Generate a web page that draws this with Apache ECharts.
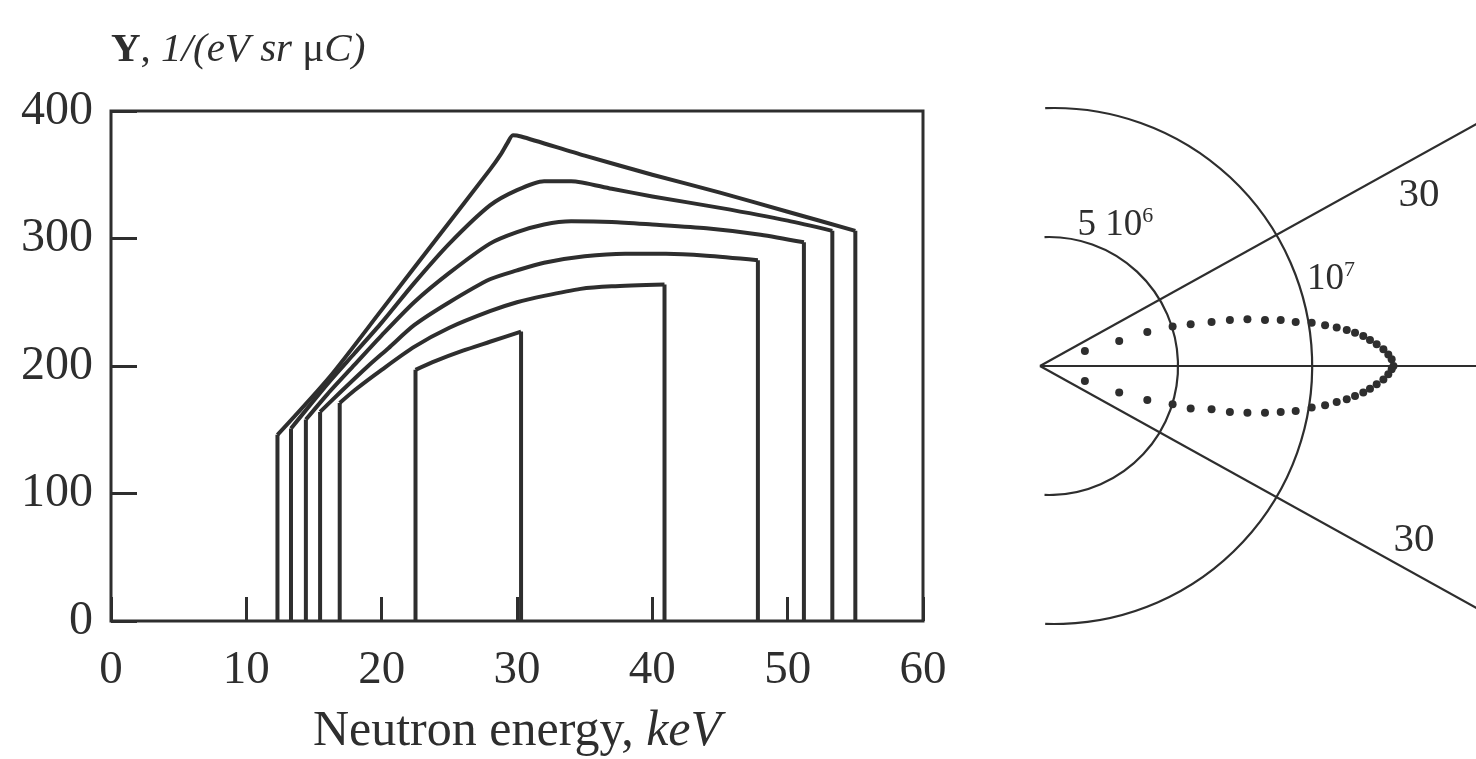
<!DOCTYPE html>
<html>
<head>
<meta charset="utf-8">
<title>Neutron yield</title>
<script src="https://cdn.jsdelivr.net/npm/echarts@6/dist/echarts.min.js"></script>
<style>
  html, body { margin: 0; padding: 0; background: #fff; }
  #chart { width: 1476px; height: 759px; }
</style>
</head>
<body>
<div id="chart"></div>
<script>
// ---- left panel: yield vs neutron energy (keV), Y in 1/(eV sr uC) ----
const curveA = [[12.3, 146], [16.2, 192], [20, 244], [24, 299], [28, 354], [28.8, 366], [29.3, 375], [29.7, 381], [30.3, 380], [35, 365], [40, 350], [45, 336], [50, 321], [55.0, 306]]
const curveB = [[13.3, 151], [16, 186], [18, 210], [20, 234], [22.4, 265], [25, 296], [28, 326], [30, 338], [32, 345], [34, 345], [37, 339], [40, 333], [45, 324], [50, 314], [53.3, 306]]
const curveC = [[14.4, 158], [16, 178], [18, 201], [20, 224], [22.4, 250], [25, 273], [28, 296], [30, 305], [32, 311], [34, 313.5], [37, 313], [40, 311], [44, 308], [48, 303], [51.2, 297]]
const curveD = [[15.45, 164], [17, 180], [19, 200], [20.5, 214], [22.4, 232], [25, 250], [28, 268], [30, 275], [32, 281], [35, 286], [38, 288], [41, 288], [44, 286.5], [47.8, 283]]
const curveE = [[16.9, 171], [18, 181], [20, 197], [22.4, 215], [25, 230], [28, 243], [30, 250], [32, 255], [34.7, 260.5], [37, 262.5], [40.9, 264]]
const curveF = [[22.5, 197], [24, 204], [26, 212], [28, 219], [30.3, 227]]
const yieldCurves = [curveA, curveB, curveC, curveD, curveE, curveF]

// ---- right panel: sketch, distances in units of 10^6 ----
const arcRadii = [5, 10]
const arcCentres = [0.35, 0.55]
const rayAngles = [29, 0, -29]
const upperDots = [[1.74, 0.58], [3.07, 0.97], [4.16, 1.32], [5.14, 1.53], [5.84, 1.62], [6.65, 1.71], [7.36, 1.78], [8.04, 1.81], [8.72, 1.78], [9.33, 1.78], [9.91, 1.71], [10.53, 1.68], [11.05, 1.58], [11.5, 1.49], [11.89, 1.4], [12.21, 1.29], [12.53, 1.16], [12.79, 1.01], [13.05, 0.84], [13.31, 0.65], [13.5, 0.45], [13.63, 0.26], [13.7, 0]]
const lowerDots = [[1.74, -0.58], [3.07, -1.03], [4.16, -1.32], [5.14, -1.48], [5.84, -1.65], [6.65, -1.68], [7.36, -1.78], [8.04, -1.81], [8.72, -1.81], [9.33, -1.78], [9.91, -1.74], [10.53, -1.61], [11.05, -1.52], [11.5, -1.4], [11.89, -1.29], [12.21, -1.16], [12.53, -1.03], [12.79, -0.88], [13.05, -0.71], [13.31, -0.52], [13.5, -0.32], [13.63, -0.13]]
const sketchLabels = ['{n|5 10}{s|6}', '{n|10}{s|7}', '{b|30}', '{b|30}']

const FONT = '"Liberation Serif", "DejaVu Serif", serif'
const INK = '#2e2e2e'
const UNIT = 25.8 // px per 10^6 in the sketch

const chart = echarts.init(document.getElementById('chart'))

const lineBase = {
  type: 'line',
  xAxisIndex: 0,
  yAxisIndex: 0,
  symbol: 'none',
  lineStyle: { color: INK, width: 4, join: 'round' },
  silent: true
}

// each curve: smooth top plus two vertical legs down to the axis
const curveSeries = yieldCurves.flatMap(c => {
  const first = c[0]
  const last = c[c.length - 1]
  return [
    { ...lineBase, data: c, smooth: 0.25 },
    { ...lineBase, data: [[first[0], 0], first] },
    { ...lineBase, data: [last, [last[0], 0]] }
  ]
})

const raySeries = rayAngles.map(a => {
  const len = a === 0 ? 17 : 20
  const rad = a * Math.PI / 180
  return {
    type: 'line',
    xAxisIndex: 1,
    yAxisIndex: 1,
    data: [[0, 0], [len * Math.cos(rad), len * Math.sin(rad)]],
    symbol: 'none',
    clip: false,
    lineStyle: { color: INK, width: 2.2 },
    silent: true
  }
})

const arcSeries = {
  type: 'custom',
  xAxisIndex: 1,
  yAxisIndex: 1,
  data: arcRadii.map((r, i) => [arcCentres[i], r]),
  renderItem: (params, api) => {
    const c = api.coord([api.value(0), 0])
    const e = api.coord([api.value(0) + api.value(1), 0])
    return {
      type: 'arc',
      shape: {
        cx: c[0], cy: c[1], r: e[0] - c[0],
        startAngle: -92 * Math.PI / 180,
        endAngle: 92 * Math.PI / 180,
        clockwise: true
      },
      style: { stroke: INK, fill: 'none', lineWidth: 2.2 }
    }
  },
  silent: true
}

const dotSeries = [upperDots, lowerDots].map(d => ({
  type: 'scatter',
  xAxisIndex: 1,
  yAxisIndex: 1,
  data: d,
  symbolSize: 8,
  itemStyle: { color: INK, opacity: 1 },
  silent: true
}))

const labelAnchors = [[1.45, 5.45], [10.35, 3.35], [13.9, 6.63], [13.7, -6.74]]
const labelSeries = {
  type: 'scatter',
  xAxisIndex: 1,
  yAxisIndex: 1,
  symbolSize: 0,
  itemStyle: { opacity: 1 },
  data: sketchLabels.map((t, i) => ({ value: labelAnchors[i], name: t })),
  label: {
    show: true,
    position: 'right',
    distance: 0,
    formatter: p => p.name,
    color: INK,
    fontFamily: FONT,
    rich: {
      n: { fontSize: 37, fontFamily: FONT, color: INK, lineHeight: 40 },
      s: { fontSize: 22, fontFamily: FONT, color: INK, verticalAlign: 'top', lineHeight: 22 },
      b: { fontSize: 41, fontFamily: FONT, color: INK }
    }
  },
  silent: true
}

chart.setOption({
  backgroundColor: '#ffffff',
  animation: false,
  title: {
    left: 106,
    top: 25,
    text: '{b|Y}{n|, }{i|1/(eV sr }{n|\u03bc}{i|C)}',
    textStyle: {
      fontWeight: 'normal',
      rich: {
        b: { fontSize: 41, fontWeight: 'bold', fontFamily: FONT, color: INK },
        n: { fontSize: 41, fontWeight: 'normal', fontFamily: FONT, color: INK },
        i: { fontSize: 41, fontWeight: 'normal', fontStyle: 'italic', fontFamily: FONT, color: INK }
      }
    }
  },
  grid: [
    { left: 111, top: 111, width: 812, height: 510, outerBoundsMode: 'none', show: true, borderColor: INK, borderWidth: 3, backgroundColor: 'transparent' },
    { left: 1040 - 2 * UNIT, top: 366 - 11 * UNIT, width: 19 * UNIT, height: 22 * UNIT, outerBoundsMode: 'none' }
  ],
  xAxis: [
    {
      gridIndex: 0,
      type: 'value',
      min: 0, max: 60, interval: 10,
      name: '{r|Neutron energy, }{i|keV}',
      nameLocation: 'middle',
      nameGap: 86,
      nameTextStyle: {
        rich: {
          r: { fontSize: 50, fontFamily: FONT, color: INK },
          i: { fontSize: 50, fontStyle: 'italic', fontFamily: FONT, color: INK }
        }
      },
      axisLine: { show: false },
      axisTick: { inside: true, length: 24, lineStyle: { color: INK, width: 3 } },
      axisLabel: { fontSize: 47, fontFamily: FONT, color: INK, margin: 26 },
      splitLine: { show: false }
    },
    { gridIndex: 1, type: 'value', min: -2, max: 17, show: false }
  ],
  yAxis: [
    {
      gridIndex: 0,
      type: 'value',
      min: 0, max: 400, interval: 100,
      axisLine: { show: false },
      axisTick: { inside: true, length: 26, lineStyle: { color: INK, width: 3 } },
      axisLabel: { fontSize: 48, fontFamily: FONT, color: INK, margin: 18 },
      splitLine: { show: false }
    },
    { gridIndex: 1, type: 'value', min: -11, max: 11, show: false }
  ],
  series: [...curveSeries, ...raySeries, arcSeries, ...dotSeries, labelSeries]
})
</script>
</body>
</html>
